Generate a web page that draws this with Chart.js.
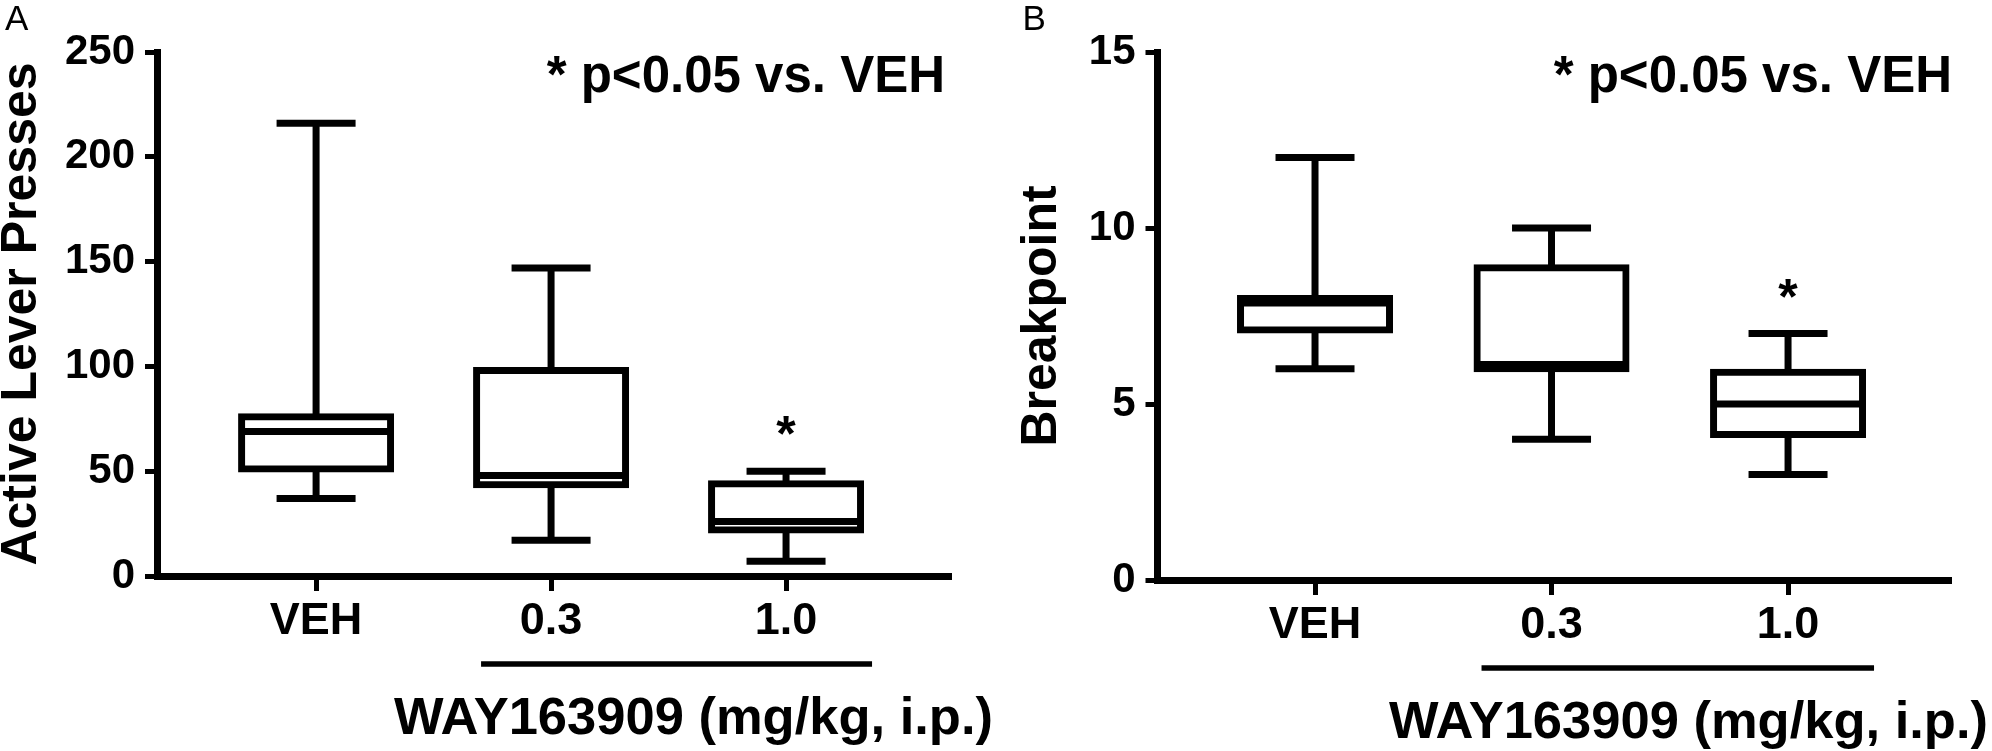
<!DOCTYPE html>
<html>
<head>
<meta charset="utf-8">
<script src="https://cdn.jsdelivr.net/npm/chart.js@4.4.0/dist/chart.umd.min.js"></script>
<style>
  html, body { margin: 0; padding: 0; background: #fff; }
  .panel { position: absolute; top: 0; width: 996px; height: 751px; }
  #panelA { left: 0; }
  #panelB { left: 996px; }
</style>
</head>
<body>
<div class="panel" id="panelA"><canvas id="chartA"></canvas></div>
<div class="panel" id="panelB"><canvas id="chartB"></canvas></div>
<script>
const groups = ['VEH', '0.3', '1.0'];
const significant = [false, false, true];

// A: active lever presses (box = Q1..Q3, whiskers = min..max)
const pressMin = [37, 17, 7];
const pressQ1 = [51, 43.5, 22];
const pressMedian = [69, 48, 26];
const pressQ3 = [76, 98, 44];
const pressMax = [216, 147, 50];
const pressTicks = [0, 50, 100, 150, 200, 250];

// B: breakpoint
const bpMin = [6, 4, 3];
const bpQ1 = [7.1, 6, 4.13];
const bpMedian = [7.87, 6.12, 5];
const bpQ3 = [8, 8.87, 5.9];
const bpMax = [12, 10, 7];
const bpTicks = [0, 5, 10, 15];

const FONT = "'Liberation Sans', Arial, Helvetica, sans-serif";
Chart.defaults.font.family = FONT;
Chart.defaults.color = '#000';

// whiskers, caps and median lines on top of the floating-bar boxes
function boxPlugin(s) {
  return {
    id: 'boxPlot',
    afterDatasetsDraw(chart) {
      const {ctx, scales: {x, y}} = chart;
      const seg = (x1, y1, x2, y2) => {
        ctx.beginPath(); ctx.moveTo(x1, y1); ctx.lineTo(x2, y2); ctx.stroke();
      };
      ctx.save();
      ctx.strokeStyle = '#000';
      ctx.lineWidth = 7;
      ctx.lineCap = 'butt';
      groups.forEach((g, i) => {
        const px = x.getPixelForValue(i);
        const yMax = y.getPixelForValue(s.max[i]);
        const yMin = y.getPixelForValue(s.min[i]);
        seg(px, y.getPixelForValue(s.q3[i]), px, yMax);
        seg(px, y.getPixelForValue(s.q1[i]), px, yMin);
        seg(px - 39.5, yMax, px + 39.5, yMax);
        seg(px - 39.5, yMin, px + 39.5, yMin);
        const yMed = y.getPixelForValue(s.median[i]);
        seg(px - 75, yMed, px + 75, yMed);
      });
      ctx.restore();
    }
  };
}

// panel letter, significance note, stars, dose bracket and group title
function notesPlugin(s) {
  return {
    id: 'notes',
    afterDraw(chart) {
      const {ctx, chartArea, scales: {x, y}} = chart;
      ctx.save();
      ctx.fillStyle = '#000';
      ctx.textBaseline = 'alphabetic';

      ctx.font = `35px ${FONT}`;
      ctx.textAlign = 'left';
      ctx.fillText(s.letter, s.letterX, 30);

      ctx.font = `bold 51px ${FONT}`;
      ctx.textAlign = 'right';
      ctx.fillText('* p<0.05 vs. VEH', s.noteRight, 92);

      ctx.font = `bold 50px ${FONT}`;
      ctx.textAlign = 'center';
      significant.forEach((sig, i) => {
        if (!sig) return;
        ctx.fillText('*', x.getPixelForValue(i), y.getPixelForValue(s.max[i]) - 20);
      });

      ctx.strokeStyle = '#000';
      ctx.lineWidth = 5.5;
      ctx.beginPath();
      ctx.moveTo(x.getPixelForValue(1) - 70, chartArea.bottom + 88);
      ctx.lineTo(x.getPixelForValue(2) + 86, chartArea.bottom + 88);
      ctx.stroke();

      ctx.font = `bold 52.5px ${FONT}`;
      ctx.textAlign = 'right';
      ctx.fillText('WAY163909 (mg/kg, i.p.)', s.groupRight, chartArea.bottom + 158);
      ctx.restore();
    }
  };
}

function drawPanel(canvasId, s) {
  return new Chart(document.getElementById(canvasId), {
    type: 'bar',
    data: {
      datasets: [{
        data: groups.map((g, i) => ({x: i, y: [s.q1[i], s.q3[i]]})),
        backgroundColor: '#fff',
        borderColor: '#000',
        borderWidth: 7,
        borderSkipped: false,
        inflateAmount: 3.5,
        barThickness: 149
      }]
    },
    options: {
      responsive: true,
      maintainAspectRatio: false,
      animation: false,
      layout: {padding: {left: s.padLeft, top: 52, right: s.padRight, bottom: 0}},
      plugins: {legend: {display: false}, tooltip: {enabled: false}},
      scales: {
        x: {
          type: 'linear',
          offset: false,
          min: s.xMin,
          max: s.xMax,
          afterBuildTicks: sc => { sc.ticks = groups.map((g, i) => ({value: i})); },
          afterFit: sc => { sc.height = s.xAxisHeight; },
          grid: {offset: false, drawOnChartArea: false, tickLength: 15, tickWidth: 5, tickColor: '#000'},
          border: {color: '#000', width: 7},
          ticks: {
            callback: v => groups[v],
            font: {size: 45, weight: 'bold'},
            padding: 4,
            maxRotation: 0,
            autoSkip: false
          }
        },
        y: {
          min: 0,
          max: s.ticks[s.ticks.length - 1],
          afterBuildTicks: sc => { sc.ticks = s.ticks.map(v => ({value: v})); },
          afterFit: sc => { sc.width = s.yAxisWidth; },
          grid: {drawOnChartArea: false, tickLength: 12, tickWidth: 5, tickColor: '#000'},
          border: {color: '#000', width: 7},
          ticks: {font: {size: 42, weight: 'bold'}, padding: 10},
          title: {
            display: true,
            text: s.title,
            font: {size: 50, weight: 'bold', lineHeight: 0.88},
            padding: 0
          }
        }
      }
    },
    plugins: [boxPlugin(s), notesPlugin(s)]
  });
}

drawPanel('chartA', {
  title: 'Active Lever Presses', letter: 'A', ticks: pressTicks,
  min: pressMin, q1: pressQ1, median: pressMedian, q3: pressQ3, max: pressMax,
  padLeft: 0, yAxisWidth: 157, padRight: 45, xAxisHeight: 175,
  xMin: -0.677, xMax: 2.702, letterX: 5, noteRight: 945, groupRight: 993
});

drawPanel('chartB', {
  title: 'Breakpoint', letter: 'B', ticks: bpTicks,
  min: bpMin, q1: bpQ1, median: bpMedian, q3: bpQ3, max: bpMax,
  padLeft: 24.5, yAxisWidth: 137, padRight: 41, xAxisHeight: 171,
  xMin: -0.666, xMax: 2.689, letterX: 26.5, noteRight: 956, groupRight: 992
});
</script>
</body>
</html>
